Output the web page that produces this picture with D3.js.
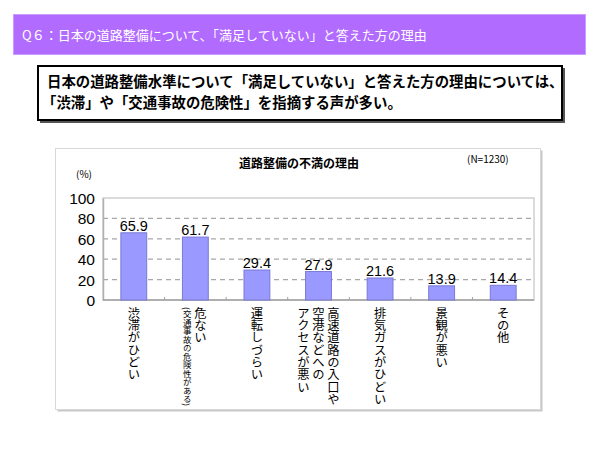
<!DOCTYPE html>
<html><head><meta charset="utf-8">
<script src="https://cdn.jsdelivr.net/npm/d3@7"></script>
<style>
html,body{margin:0;padding:0;background:#fff;}
svg{display:block;font-family:"Noto Sans CJK JP","Noto Sans",sans-serif;}
</style></head>
<body><svg id="c" width="600" height="457"></svg>
<script>
const headerText = "Q６：日本の道路整備について、「満足していない」と答えた方の理由";
const summaryLines = ["日本の道路整備水準について「満足していない」と答えた方の理由については、", "「渋滞」や「交通事故の危険性」を指摘する声が多い。"];
const chartTitle = "道路整備の不満の理由";
const sampleNote = "(N=1230)";
const unitLabel = "(%)";
const categories = ["渋滞がひどい", "危ない", "運転しづらい", "高速道路の入口や空港などへのアクセスが悪い", "排気ガスがひどい", "景観が悪い", "その他"];
const categoryLines = [["渋滞がひどい"], ["危ない"], ["運転しづらい"], ["高速道路の入口や", "空港などへの", "アクセスが悪い"], ["排気ガスがひどい"], ["景観が悪い"], ["その他"]];
const categoryNotes = ["", "(交通事故の危険性がある)", "", "", "", "", ""];
const values = [65.9, 61.7, 29.4, 27.9, 21.6, 13.9, 14.4];
const yTicks = [0, 20, 40, 60, 80, 100];

const svg = d3.select("#c");

// header banner
svg.append("rect").attr("x", 13.5).attr("y", 14.5).attr("width", 572).attr("height", 40)
  .attr("fill", "#b26bff").attr("stroke", "#c99cff").attr("stroke-width", 1);
svg.append("text").attr("x", 22).attr("y", 40).attr("fill", "#fff")
  .attr("font-size", 13).text(headerText);

// summary box
svg.append("rect").attr("x", 40).attr("y", 68).attr("width", 525).attr("height", 55).attr("fill", "#555");
svg.append("rect").attr("x", 38).attr("y", 66).attr("width", 524).attr("height", 54)
  .attr("fill", "#fff").attr("stroke", "#000").attr("stroke-width", 2);
svg.selectAll("text.sum").data(summaryLines).join("text").attr("class", "sum")
  .attr("x", (d, i) => i === 0 ? 47 : 42).attr("y", (d, i) => 87 + i * 21)
  .attr("font-size", 14.4).attr("font-weight", "bold").attr("fill", "#000")
  .text(d => d);

// chart frame
svg.append("rect").attr("x", 57.5).attr("y", 150.5).attr("width", 485).attr("height", 261)
  .attr("fill", "#c8c8c8");
svg.append("rect").attr("x", 55.5).attr("y", 148.5).attr("width", 485).attr("height", 261)
  .attr("fill", "#fff").attr("stroke", "#d8d8d8").attr("stroke-width", 1);

svg.append("text").attr("x", 299).attr("y", 168).attr("text-anchor", "middle")
  .attr("font-size", 12).attr("font-weight", "bold").text(chartTitle);
svg.append("text").attr("x", 467).attr("y", 163).attr("font-size", 10).text(sampleNote);
svg.append("text").attr("x", 76).attr("y", 178).attr("font-size", 10).text(unitLabel);

const plot = {l: 103, r: 534, t: 198, b: 300};
const y = d3.scaleLinear().domain([0, 100]).range([plot.b, plot.t]);
const x = d3.scaleBand().domain(categories).range([plot.l, plot.r]).paddingInner(0.58).paddingOuter(0.29);
const xb = d3.scaleBand().domain(categories).range([plot.l, plot.r]);

// plot border
svg.append("rect").attr("x", plot.l).attr("y", plot.t).attr("width", plot.r - plot.l).attr("height", plot.b - plot.t)
  .attr("fill", "none").attr("stroke", "#d0d0d0").attr("stroke-width", 1.5);

// gridlines
svg.append("g").selectAll("line").data(yTicks.filter(v => v > 0 && v < 100)).join("line")
  .attr("x1", plot.l).attr("x2", plot.r).attr("y1", d => y(d)).attr("y2", d => y(d))
  .attr("stroke", "#a8a8a8").attr("stroke-width", 1.2).attr("stroke-dasharray", "5,4");

// y axis
const ya = svg.append("g").attr("transform", `translate(${plot.l},0)`)
  .call(d3.axisLeft(y).tickValues(yTicks).tickSize(0).tickPadding(8));
ya.select(".domain").attr("stroke", "#b0b0b0").attr("stroke-width", 1.5);
ya.selectAll("text").attr("font-size", 15.5).attr("fill", "#000").attr("font-family", "'Liberation Sans',Arial,sans-serif").attr("dy", "0.36em");

// x axis line
svg.append("line").attr("x1", plot.l).attr("x2", plot.r).attr("y1", plot.b).attr("y2", plot.b)
  .attr("stroke", "#a0a0a0").attr("stroke-width", 1.5);
// band ticks
svg.append("g").selectAll("line").data(categories.slice(1)).join("line")
  .attr("x1", d => xb(d)).attr("x2", d => xb(d)).attr("y1", plot.b).attr("y2", plot.b - 3)
  .attr("stroke", "#a0a0a0").attr("stroke-width", 1);

// bars
svg.append("g").selectAll("rect").data(values).join("rect")
  .attr("x", (d, i) => x(categories[i])).attr("width", x.bandwidth())
  .attr("y", d => y(d)).attr("height", d => plot.b - y(d))
  .attr("fill", "#9999ff").attr("stroke", "#7a7ad6").attr("stroke-width", 1);

// value labels
svg.append("g").selectAll("text").data(values).join("text")
  .attr("x", (d, i) => x(categories[i]) + x.bandwidth() / 2).attr("y", d => y(d) - 2)
  .attr("text-anchor", "middle").attr("font-size", 14.5)
  .attr("font-family", "'Liberation Sans Narrow','Liberation Sans',Arial,sans-serif")
  .text(d => d.toFixed(1));

// category labels (vertical)
const lab = svg.append("g");
categories.forEach((c, i) => {
  const cx = xb(c) + xb.bandwidth() / 2;
  const lines = categoryLines[i];
  const note = categoryNotes[i];
  const cols = [];
  if (note) {
    cols.push({t: lines[0], x: cx + 5, fs: 12.3});
    cols.push({t: note, x: cx - 8, fs: 8.5});
  } else {
    const n = lines.length;
    lines.forEach((t, j) => cols.push({t, x: cx + ((n - 1) / 2 - j) * 15, fs: 12.3}));
  }
  cols.forEach(col => {
    lab.append("text").attr("x", col.x).attr("y", 307)
      .style("writing-mode", "vertical-rl").style("text-orientation", "mixed")
      .attr("font-size", col.fs).attr("fill", "#000").text(col.t);
  });
});
</script></body></html>
